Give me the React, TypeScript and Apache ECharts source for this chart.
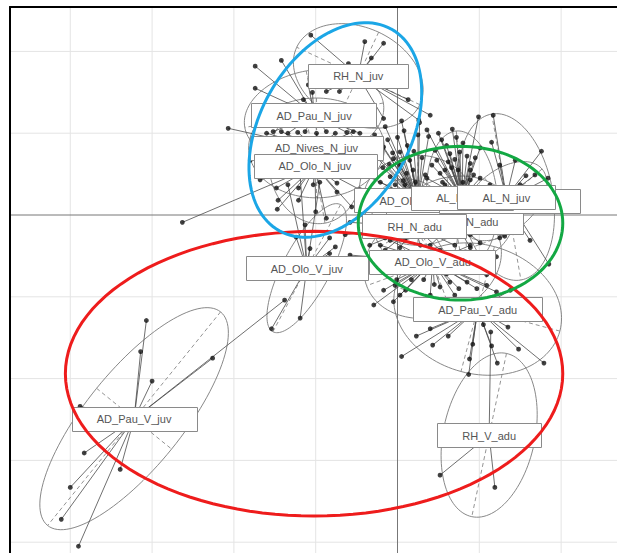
import React, { useEffect, useRef } from "react";
import * as echarts from "echarts";

// ---- axis range (plot is cropped by the image border) ----
const xMin = -4.737;
const xMax = 2.683;
const yMin = -4.132;
const yMax = 2.543;
const gridX = [-4, -3, -2, -1, 1, 2];
const gridY = [-4, -3, -2, -1, 1, 2];

// ---- classes ----
const classNames = [
  "AD_Nives_N_adu", "AD_Nives_N_juv", "AD_Olo_N_adu", "AD_Olo_N_juv", "AD_Olo_V_adu",
  "AD_Olo_V_juv", "AD_Pau_N_adu", "AD_Pau_N_juv", "AD_Pau_V_adu", "AD_Pau_V_juv",
  "AL_N_adu", "AL_N_juv", "RH_N_adu", "RH_N_juv", "RH_V_adu",
];
const centerX = [0.70, -0.99, 0.25, -1.01, 0.43, -1.11, 1.30, -1.02, 0.98, -3.22, 0.79, 1.33, 0.21, -0.48, 1.12];
const centerY = [-0.08, 0.82, 0.18, 0.60, -0.57, -0.65, 0.17, 1.22, -1.15, -2.49, 0.21, 0.22, -0.14, 1.70, -2.69];
// ellipse half-axes and orientation (degrees)
const ellA = [0.73, 0.83, 0.67, 0.71, 0.86, 0.88, 0.61, 0.86, 1.04, 1.68, 0.82, 1.03, 0.61, 0.83, 1.02];
const ellB = [0.55, 0.61, 0.55, 0.56, 0.67, 0.29, 0.37, 0.55, 0.79, 0.59, 0.43, 0.57, 0.49, 0.59, 0.56];
const ellAngle = [10, 0, 0, 100, 20, 62, 40, 10, -15, 51, 95, 100, 120, -25, 78];

// ---- individuals per class ----
const ptsADNivesNadu = [[0.09, -0.31], [0.40, -0.37], [0.89, -0.40], [1.31, -0.26], [1.50, -0.21], [0.52, -0.24], [-0.15, -0.28], [1.01, -0.34], [0.58, 0.37], [0.89, 0.43]];
const ptsADNivesNjuv = [[-2.07, 1.06], [-1.60, 1.00], [-1.42, 1.02], [-1.22, 1.01], [-0.99, 1.00], [-0.76, 1.00], [-0.54, 1.02], [-0.28, 0.94], [-1.80, 0.67], [-0.40, 0.67]];
const ptsADOloNadu = [[-0.15, 1.08], [-0.17, 0.83], [-0.05, 0.69], [-0.06, 0.76], [0.03, 0.61], [0.08, 1.03], [0.19, 0.55], [0.25, 0.98], [0.27, 1.13], [0.38, 0.96], [0.03, 0.77], [-0.09, 0.47], [0.11, 0.51], [-0.40, 0.49], [-0.34, 0.79], [-0.28, 0.98], [-0.31, 0.28], [-0.21, 0.40], [-0.03, 0.37], [0.15, 0.67], [0.34, 0.49], [-0.12, 0.92], [0.00, 0.95], [0.12, 0.85], [0.20, 0.78], [-0.10, 0.62], [0.07, 0.42], [0.22, 0.40], [-0.18, 0.58], [0.30, 0.70], [0.05, 1.15], [-0.22, 0.70]];
const ptsADOloNjuv = [[-2.63, -0.09], [-1.48, 0.33], [-1.46, 0.18], [-1.47, 0.07], [-1.21, 0.18], [-1.00, 0.04], [-0.87, -0.04], [-0.74, 0.28], [-1.03, 0.37], [-1.21, 0.33], [-0.74, 0.39], [-0.56, 0.10], [-1.68, 0.43], [-0.52, 0.49], [-0.46, 0.31]];
const ptsADOloVadu = [[-0.29, -1.10], [-0.05, -1.06], [-0.17, -0.92], [-0.03, -0.86], [-0.01, -0.79], [0.17, -0.79], [0.32, -0.79], [0.52, -0.88], [0.64, -0.82], [0.85, -0.82], [0.97, -0.90], [1.09, -0.86], [1.21, -0.94], [1.09, -0.73], [1.21, -0.51], [-0.21, -0.37], [-0.09, -0.31], [0.89, -0.37], [0.03, -0.98], [0.40, -0.98], [0.70, -0.98], [-0.46, -0.67], [-0.58, -0.49], [0.15, -0.53], [0.25, -0.70], [0.60, -0.72], [0.75, -0.90], [0.10, -0.92], [-0.12, -0.55], [0.95, -0.65], [0.45, -0.85]];
const ptsADOloVjuv = [[-1.54, -1.39], [-1.19, -1.26], [-1.07, -0.41], [-0.83, -0.28], [-0.76, -0.39], [-0.83, -0.47], [-1.24, -0.27], [-1.13, -0.12], [-1.34, 0.37], [-1.19, 0.48], [-0.95, 0.40]];
const ptsADPauNadu = [[1.50, 0.37], [1.84, 0.45], [1.07, 0.33], [1.25, -0.28], [1.62, -0.31], [1.94, 0.12], [0.89, -0.24]];
const ptsADPauNjuv = [[-1.74, 1.82], [-1.74, 1.55], [-1.42, 1.89], [-1.09, 1.59], [-1.04, 1.50], [-1.15, 1.41], [-1.52, 1.02], [-1.34, 1.00], [-1.13, 1.02], [-0.87, 1.02], [-0.62, 1.01], [-0.46, 1.00]];
const ptsADPauVadu = [[0.05, -1.73], [0.23, -1.48], [0.43, -1.59], [0.62, -1.48], [0.92, -1.58], [0.88, -1.76], [0.87, -1.95], [1.15, -1.60], [1.22, -1.81], [1.48, -1.64], [1.79, -1.81], [1.05, -1.34], [1.35, -1.37], [0.40, -1.39], [1.38, -0.92], [1.58, -1.04], [0.70, -1.04]];
const ptsADPauVjuv = [[-3.07, -1.29], [-3.14, -1.67], [-3.00, -2.03], [-2.26, -1.75], [-1.38, -1.04], [-3.88, -2.34], [-3.83, -2.91], [-3.39, -3.11], [-4.00, -3.33], [-4.11, -3.72], [-3.90, -4.05]];
const ptsALNadu = [[0.36, 1.04], [0.67, 1.05], [0.80, 0.88], [0.76, 0.77], [0.62, 0.65], [1.01, 0.82], [0.89, 0.55], [0.52, 0.51], [0.36, 0.45], [0.48, 0.67], [0.64, 0.75], [0.70, 0.68], [0.89, 0.63], [0.93, 0.49], [0.42, 0.61], [0.58, 0.55], [0.74, 0.55], [0.99, 1.20], [1.01, 0.45], [0.54, 0.92], [0.46, 0.79], [0.60, 0.85], [0.72, 0.95], [0.85, 0.72], [0.55, 0.40], [0.80, 0.40], [0.95, 0.70], [0.66, 0.58], [0.50, 1.00]];
const ptsALNjuv = [[1.17, 1.22], [1.15, 0.89], [1.76, 0.78], [1.68, 0.49], [1.57, 0.48], [1.25, 0.61], [1.44, 0.67], [1.13, 0.37], [1.85, -0.60]];
const ptsRHNadu = [[-0.40, -0.18], [-0.34, -0.37], [-0.15, -0.43], [0.03, -0.40], [0.28, -0.37], [0.52, -0.43], [0.70, -0.37], [-0.46, 0.00], [-0.58, -0.09], [-0.64, -0.24], [0.09, 0.37], [0.40, 0.31]];
const ptsRHNjuv = [[-1.06, 2.20], [-0.40, 2.12], [-0.17, 2.10], [-0.32, 1.92], [-0.60, 1.85], [-1.07, 1.69], [-0.71, 1.51], [-0.87, 1.51], [-0.17, 1.18], [0.13, 1.41], [0.26, 1.16], [0.40, 1.22]];
const ptsRHVadu = [[0.52, -3.18], [1.19, -3.33], [1.14, -1.43]];

const classPoints = [
  ptsADNivesNadu, ptsADNivesNjuv, ptsADOloNadu, ptsADOloNjuv, ptsADOloVadu,
  ptsADOloVjuv, ptsADPauNadu, ptsADPauNjuv, ptsADPauVadu, ptsADPauVjuv,
  ptsALNadu, ptsALNjuv, ptsRHNadu, ptsRHNjuv, ptsRHVadu,
];

// ---- hand-drawn highlight ellipses ----
const hlCX = [-1.02, -0.76, 0.77];
const hlCY = [-1.94, 1.04, -0.10];
const hlRX = [3.04, 1.41, 1.25];
const hlRY = [1.74, 0.92, 0.94];
const hlAngle = [0, 61, 0];
const hlColor = ["#ee1c1c", "#1ba6e6", "#13a843"];

const LABEL_FONT = "11px 'Liberation Sans', Arial, sans-serif";

function ellipsePts(api: any, cx: number, cy: number, a: number, b: number, deg: number) {
  const th = (deg * Math.PI) / 180;
  const pts: number[][] = [];
  const n = 120;
  for (let k = 0; k <= n; k++) {
    const t = (k / n) * 2 * Math.PI;
    const ex = a * Math.cos(t);
    const ey = b * Math.sin(t);
    pts.push(api.coord([cx + ex * Math.cos(th) - ey * Math.sin(th), cy + ex * Math.sin(th) + ey * Math.cos(th)]));
  }
  return pts;
}

export default function App() {
  const ref = useRef<HTMLDivElement>(null);
  useEffect(() => {
    if (!ref.current) return;
    const chart = echarts.init(ref.current, null, { renderer: "svg" });

    const starData: number[][] = [];
    const pointData: number[][] = [];
    classPoints.forEach((pts, i) => {
      pts.forEach((p) => {
        starData.push([centerX[i], centerY[i], p[0], p[1]]);
        pointData.push([p[0], p[1]]);
      });
    });

    const ctx = document.createElement("canvas").getContext("2d");
    if (ctx) ctx.font = LABEL_FONT;
    const textW = classNames.map((n) => (ctx ? ctx.measureText(n).width : n.length * 6.3));

    const option: any = {
      animation: false,
      backgroundColor: "#ffffff",
      grid: { left: 10, top: 7, right: 0, bottom: 0, containLabel: false },
      xAxis: {
        type: "value", min: xMin, max: xMax, position: "top",
        axisLine: { show: true, onZero: false, lineStyle: { color: "#000", width: 2 } },
        axisTick: { show: false }, axisLabel: { show: false }, splitLine: { show: false },
      },
      yAxis: {
        type: "value", min: yMin, max: yMax, position: "left",
        axisLine: { show: true, onZero: false, lineStyle: { color: "#000", width: 2 } },
        axisTick: { show: false }, axisLabel: { show: false }, splitLine: { show: false },
      },
      series: [
        {
          type: "custom", z: 0, silent: true, clip: true,
          data: [[0, 0]],
          renderItem: (params: any, api: any) => {
            const children: any[] = [];
            gridX.forEach((v) => {
              const p1 = api.coord([v, yMin]);
              const p2 = api.coord([v, yMax]);
              children.push({ type: "line", shape: { x1: p1[0], y1: p1[1], x2: p2[0], y2: p2[1] }, style: { stroke: "#e4e4e4", lineWidth: 1 } });
            });
            gridY.forEach((v) => {
              const p1 = api.coord([xMin, v]);
              const p2 = api.coord([xMax, v]);
              children.push({ type: "line", shape: { x1: p1[0], y1: p1[1], x2: p2[0], y2: p2[1] }, style: { stroke: "#e4e4e4", lineWidth: 1 } });
            });
            const a1 = api.coord([0, yMin]);
            const a2 = api.coord([0, yMax]);
            children.push({ type: "line", shape: { x1: a1[0], y1: a1[1], x2: a2[0], y2: a2[1] }, style: { stroke: "#777", lineWidth: 1 } });
            const b1 = api.coord([xMin, 0]);
            const b2 = api.coord([xMax, 0]);
            children.push({ type: "line", shape: { x1: b1[0], y1: b1[1], x2: b2[0], y2: b2[1] }, style: { stroke: "#777", lineWidth: 1 } });
            return { type: "group", children };
          },
        },
        {
          type: "custom", z: 1, silent: true, clip: true,
          data: classNames.map((_, i) => [centerX[i], centerY[i]]),
          renderItem: (params: any, api: any) => {
            const i = params.dataIndex;
            const cx = centerX[i], cy = centerY[i], a = ellA[i], b = ellB[i];
            const th = (ellAngle[i] * Math.PI) / 180;
            const pts = ellipsePts(api, cx, cy, a, b, ellAngle[i]);
            const m1 = api.coord([cx + a * Math.cos(th), cy + a * Math.sin(th)]);
            const m2 = api.coord([cx - a * Math.cos(th), cy - a * Math.sin(th)]);
            const n1 = api.coord([cx - b * Math.sin(th), cy + b * Math.cos(th)]);
            const n2 = api.coord([cx + b * Math.sin(th), cy - b * Math.cos(th)]);
            const dash = { stroke: "#888", lineWidth: 0.9, lineDash: [4, 3] };
            return {
              type: "group",
              children: [
                { type: "polyline", shape: { points: pts }, style: { stroke: "#7a7a7a", lineWidth: 0.9, fill: "none" } },
                { type: "line", shape: { x1: m1[0], y1: m1[1], x2: m2[0], y2: m2[1] }, style: dash },
                { type: "line", shape: { x1: n1[0], y1: n1[1], x2: n2[0], y2: n2[1] }, style: dash },
              ],
            };
          },
        },
        {
          type: "custom", z: 2, silent: true, clip: true,
          data: starData,
          renderItem: (params: any, api: any) => {
            const p1 = api.coord([api.value(0), api.value(1)]);
            const p2 = api.coord([api.value(2), api.value(3)]);
            return { type: "line", shape: { x1: p1[0], y1: p1[1], x2: p2[0], y2: p2[1] }, style: { stroke: "#4a4a4a", lineWidth: 0.8 } };
          },
        },
        {
          type: "scatter", z: 3, silent: true,
          symbolSize: 4.8,
          itemStyle: { color: "#111" },
          data: pointData,
        },
        {
          // class labels: boxed texts at class centroids, later classes on top
          type: "custom", z: 5, silent: true, clip: false,
          data: classNames.map((_, i) => [centerX[i], centerY[i]]),
          renderItem: (params: any, api: any) => {
            const i = params.dataIndex;
            const c = api.coord([api.value(0), api.value(1)]);
            const padL = 25;
            const padR = classNames[i] === "AD_Pau_N_adu" ? 36 : 25;
            const w = textW[i] + padL + padR;
            const h = 24;
            const x0 = c[0] - textW[i] / 2 - padL;
            return {
              type: "group",
              children: [
                {
                  type: "rect", z2: i * 2,
                  shape: { x: Math.round(x0) + 0.5, y: Math.round(c[1] - h / 2) + 0.5, width: Math.round(w), height: h },
                  style: { fill: "#fff", stroke: "#8a8a8a", lineWidth: 1 },
                },
                {
                  type: "text", z2: i * 2 + 1,
                  style: { text: classNames[i], x: c[0], y: c[1] + 0.5, align: "center", verticalAlign: "middle", fill: "#555", font: LABEL_FONT },
                },
              ],
            };
          },
        },
        {
          type: "custom", z: 40, silent: true, clip: true,
          data: hlCX.map((_, i) => [hlCX[i], hlCY[i]]),
          renderItem: (params: any, api: any) => {
            const i = params.dataIndex;
            const pts = ellipsePts(api, hlCX[i], hlCY[i], hlRX[i], hlRY[i], hlAngle[i]);
            return { type: "polyline", shape: { points: pts }, style: { stroke: hlColor[i], lineWidth: 3, fill: "none" } };
          },
        },
      ],
    };
    chart.setOption(option);
    return () => chart.dispose();
  }, []);
  return <div ref={ref} style={{ position: "fixed", left: 0, top: 0, width: 617, height: 553, background: "#fff" }} />;
}
